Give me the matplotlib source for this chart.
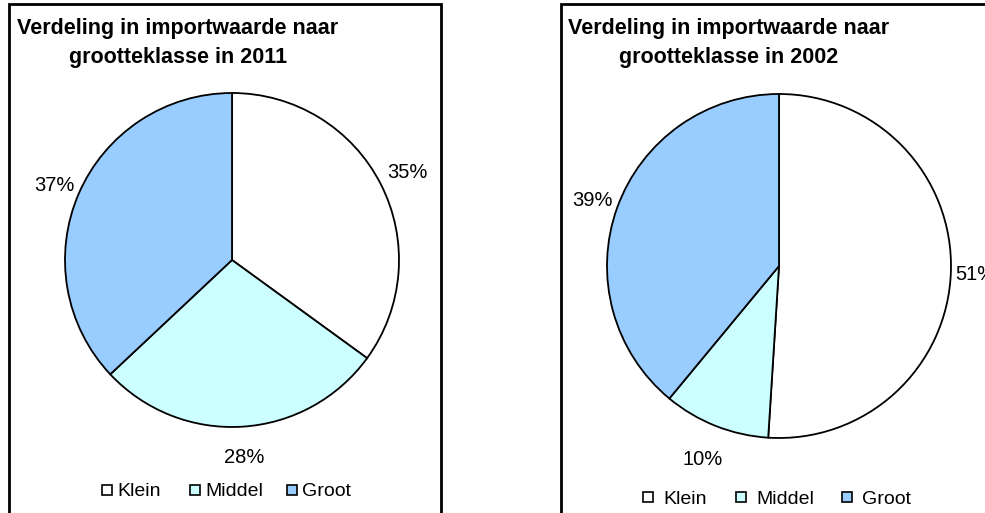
import numpy as np
import matplotlib.pyplot as plt
from matplotlib.patches import Rectangle

plt.rcParams['font.family'] = ['Liberation Sans', 'DejaVu Sans']

# share of import value per size class
categories = ["Klein", "Middel", "Groot"]
shares_2011 = [35, 28, 37]
shares_2002 = [51, 10, 39]
colors = ["#FFFFFF", "#CCFFFF", "#99CCFF"]

W, H = 985, 513
fig = plt.figure(figsize=(W / 100, H / 100), dpi=100)
ax = fig.add_axes([0, 0, 1, 1])
ax.set_xlim(0, W)
ax.set_ylim(0, H)
ax.axis("off")


def y(py):
    # work in pixel rows counted from the top
    return H - py


def panel(x0, x1, shares, year, cx, cy, r, label_dist, title_x,
          legend_x, legend_row, steps, text_gap):
    ax.add_patch(Rectangle((x0, y(H + 10)), x1 - x0, (H + 10) - 4,
                           fill=False, lw=2, ec="black", zorder=1))
    ax.text(title_x, y(43), "Verdeling in importwaarde naar\ngrootteklasse in " + year,
            ha="center", va="center", fontsize=15.5, fontweight="bold",
            linespacing=1.45)
    wedges, _ = ax.pie(shares, colors=colors, startangle=90, counterclock=False,
                       center=(cx, y(cy)), radius=r, frame=True,
                       wedgeprops=dict(edgecolor="black", linewidth=1.3))
    for w, val, d in zip(wedges, shares, label_dist):
        mid = np.deg2rad((w.theta1 + w.theta2) / 2)
        ax.text(cx + d * r * np.cos(mid), y(cy) + d * r * np.sin(mid),
                f"{val}%", ha="center", va="center_baseline", fontsize=14.5)
    # legend row
    lx = legend_x
    for name, c, step in zip(categories, colors, steps):
        ax.add_patch(Rectangle((lx, y(legend_row + 4.5)), 9.5, 9.5,
                               fc=c, ec="black", lw=1.2))
        ax.text(lx + text_gap, y(legend_row), name, ha="left",
                va="center_baseline", fontsize=14)
        lx += step


panel(9, 441, shares_2011, "2011", 232, 260, 167, [1.18, 1.17, 1.16], 178,
      102, 490, [88, 97, 0], 15)
panel(561, 1100, shares_2002, "2002", 779, 266, 172, [1.14, 1.2, 1.15], 729,
      643, 497, [93, 106, 0], 20)

ax.set_xlim(0, W)
ax.set_ylim(0, H)
ax.set_aspect("auto")

fig.savefig("out.png", dpi=100)
